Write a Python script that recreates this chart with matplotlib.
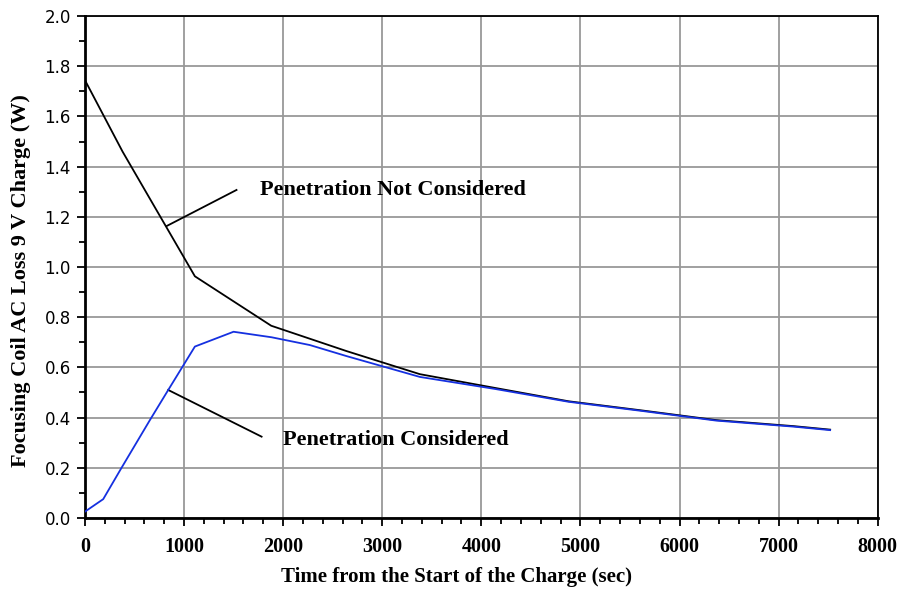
import matplotlib
matplotlib.use('Agg')
import matplotlib.pyplot as plt
from matplotlib.ticker import MultipleLocator

# data
t_not = [0, 380, 1110, 1880, 2640, 3380, 4140, 4880, 5630, 6370, 7150, 7520]
loss_not = [1.745, 1.46, 0.963, 0.766, 0.665, 0.573, 0.518, 0.465, 0.428, 0.39, 0.366, 0.352]

t_pen = [0, 185, 370, 656, 841, 1110, 1500, 1884, 2270, 2640, 3380, 4140, 4880, 5630, 6370, 7150, 7520]
loss_pen = [0.025, 0.075, 0.20, 0.39, 0.51, 0.683, 0.742, 0.72, 0.689, 0.645, 0.562, 0.514,
            0.463, 0.426, 0.388, 0.364, 0.35]

x_ticks = [0, 1000, 2000, 3000, 4000, 5000, 6000, 7000, 8000]

serif = 'Liberation Serif'

fig = plt.figure(figsize=(9.03, 5.94), dpi=100)
ax = fig.add_axes([0.094, 0.128, 0.878, 0.845])

ax.plot(t_not, loss_not, color='black', lw=1.3, zorder=3)
ax.plot(t_pen, loss_pen, color='#1530e0', lw=1.3, zorder=4)

ax.set_xlim(0, 8000)
ax.set_ylim(0, 2.0)
ax.set_xticks(x_ticks, [str(v) for v in x_ticks], fontfamily=serif,
              fontweight='bold', fontsize=14.5)
ax.xaxis.set_minor_locator(MultipleLocator(200))
ax.yaxis.set_major_locator(MultipleLocator(0.2))
ax.yaxis.set_minor_locator(MultipleLocator(0.1))
ax.yaxis.set_major_formatter(plt.FuncFormatter(lambda v, p: f'{v:.1f}'))

ax.grid(True, which='major', color='#999999', lw=1.3, zorder=1)
for s in ax.spines.values():
    s.set_linewidth(1.3)
ax.spines['left'].set_linewidth(2)
ax.spines['bottom'].set_linewidth(2)

ax.tick_params(which='major', direction='out', length=6, width=1.3)
ax.tick_params(which='minor', direction='out', length=4, width=1.3)
ax.tick_params(axis='y', labelsize=12, pad=4)
ax.tick_params(axis='x', pad=8)

ax.set_xlabel('Time from the Start of the Charge (sec)', fontfamily=serif,
              fontweight='bold', fontsize=15)
ax.xaxis.set_label_coords(0.469, -0.098)
ax.set_ylabel('Focusing Coil AC Loss 9 V Charge (W)', fontfamily=serif,
              fontweight='bold', fontsize=16)
ax.yaxis.set_label_coords(-0.068, 0.472)

# annotations
ax.plot([824, 1530], [1.163, 1.307], color='black', lw=1.3, zorder=3)
ax.text(1766, 1.307, 'Penetration Not Considered', fontfamily=serif,
        fontweight='bold', fontsize=16, va='center', ha='left')
ax.plot([841, 1783], [0.51, 0.324], color='black', lw=1.3, zorder=3)
ax.text(1998, 0.31, 'Penetration Considered', fontfamily=serif,
        fontweight='bold', fontsize=16, va='center', ha='left')

fig.savefig('out.png', dpi=100)
